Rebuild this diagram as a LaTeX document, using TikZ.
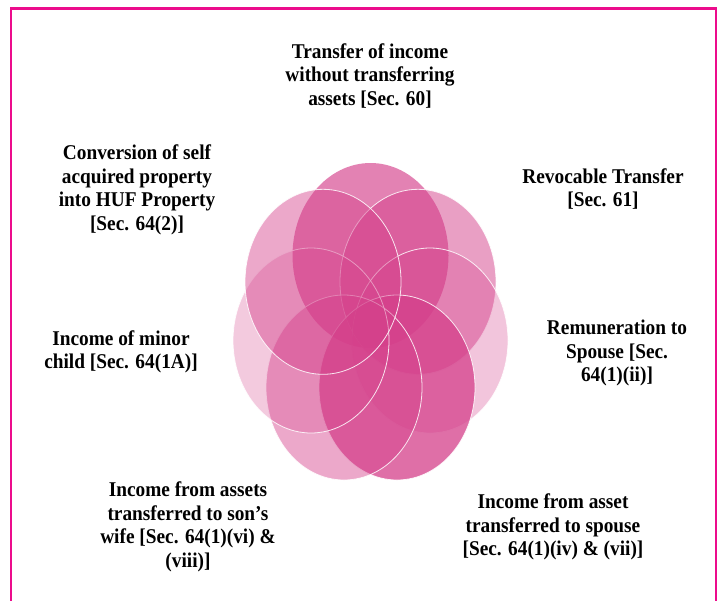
\documentclass[tikz,border=0pt]{standalone}
\usepackage{fontspec}
\setmainfont{Liberation Serif}[FakeStretch=0.92]
\usetikzlibrary{shapes.geometric,positioning}
\definecolor{FrameMag}{HTML}{EC0C8C}
\definecolor{PetalPink}{HTML}{D43F8A}

\begin{document}
\begin{tikzpicture}[x=1pt, y=-1pt,
  petal/.style={ellipse, minimum width=156pt, minimum height=185pt, inner sep=0pt,
                fill=PetalPink, draw=white, line width=0.8pt, draw opacity=0.85},
  lbl/.style={align=center, inner sep=0pt,
              font=\bfseries\fontsize{21}{23.5}\selectfont}]
  \useasboundingbox (0,0) rectangle (719,600);
  \draw[FrameMag, line width=2.6pt] (11,602) -- (11,8.5) -- (716,8.5) -- (716,602);
  % petals, clockwise from the top
  \node[petal, fill opacity=0.65, draw=none] (p60) at (370.5,255.5) {};
  \node[petal, fill opacity=0.50] (p61) at (418,281.8) {};
  \node[petal, fill opacity=0.30] (pii) at (430,340.5) {};
  \node[petal, fill opacity=0.75] (piv) at (397,387.5) {};
  \node[petal, fill opacity=0.45] (pvi) at (344,387.5) {};
  \node[petal, fill opacity=0.28] (p1a) at (311,340.5) {};
  \node[petal, fill opacity=0.45] (p642) at (323,281.8) {};
  % labels
  \node[lbl] (sec60) at (370,76) {Transfer of income\\without transferring\\assets [Sec. 60]};
  \node[lbl] (sec61) at (603,189) {Revocable Transfer\\{[}Sec. 61{]}};
  \node[lbl] (secii) at (617,353) {Remuneration to\\Spouse [Sec.\\64(1)(ii)]};
  \node[lbl] (seciv) at (553,527) {Income from asset\\transferred to spouse\\{[}Sec. 64(1)(iv) \& (vii)]};
  \node[lbl] (secvi) at (188,527) {Income from assets\\transferred to son’s\\wife [Sec. 64(1)(vi) \&\\(viii)]};
  \node[lbl] (sec1a) at (121,352) {Income of minor\\child [Sec. 64(1A)]};
  \node[lbl] (sec642) at (137,190) {Conversion of self\\acquired property\\into HUF Property\\{[}Sec. 64(2)]};
\end{tikzpicture}
\end{document}
